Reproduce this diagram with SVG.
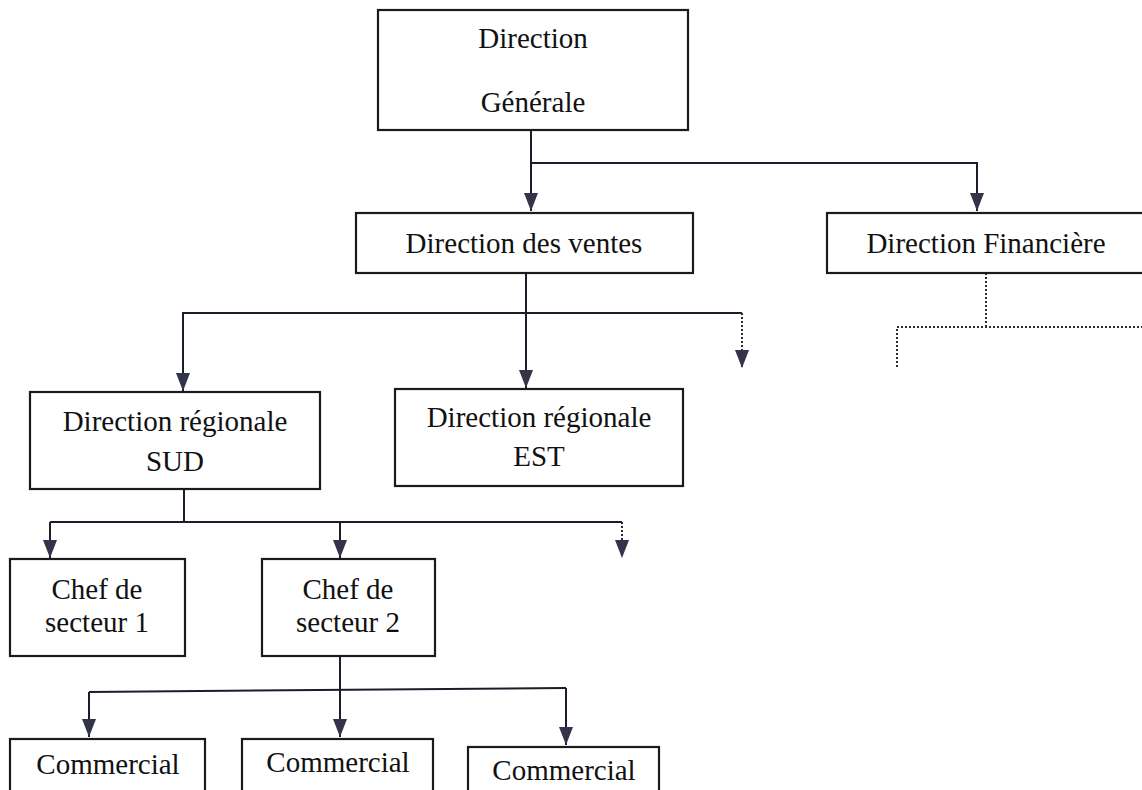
<svg xmlns="http://www.w3.org/2000/svg" width="1142" height="790" viewBox="0 0 1142 790">
  <style>
    .box { fill: #ffffff; stroke: #1a1a1a; stroke-width: 2.2; }
    .lbl { font-family: "Liberation Serif", "Times New Roman", serif; font-size: 29px; fill: #111111; text-anchor: middle; }
    .ln { fill: none; stroke: #1c1c2a; stroke-width: 2; }
    .dot { fill: none; stroke: #2a2a3a; stroke-width: 2; stroke-dasharray: 2 2; }
  </style>
  <defs>
    <!-- filled triangular arrowhead, tip at the path end -->
    <marker id="arr" viewBox="0 0 18 14" refX="18" refY="7" markerWidth="18" markerHeight="14" markerUnits="userSpaceOnUse" orient="auto">
      <path d="M0,0 L18,7 L0,14 Z" fill="#33334a"/>
    </marker>
  </defs>
  <rect width="1142" height="790" fill="#ffffff"/>

  <!-- connectors -->
  <g id="connectors">
    <!-- Direction Générale -> second level -->
    <path class="ln" d="M531,130 V211" marker-end="url(#arr)"/>
    <path class="ln" d="M531,163 H977 V211" marker-end="url(#arr)"/>
    <!-- Direction Financière (dotted, unfinished) -->
    <path class="dot" d="M986,273 V327"/>
    <path class="dot" d="M897,367 V327 H1142"/>
    <!-- Direction des ventes -> regional -->
    <path class="ln" d="M526,273 V388" marker-end="url(#arr)"/>
    <path class="ln" d="M526,313 H183 V391" marker-end="url(#arr)"/>
    <path class="ln" d="M526,313 H742"/>
    <path class="dot" d="M742,313 V368" marker-end="url(#arr)"/>
    <!-- Direction régionale SUD -> sector chiefs -->
    <path class="ln" d="M184,489 V522"/>
    <path class="ln" d="M50,522 H622"/>
    <path class="ln" d="M50,522 V558" marker-end="url(#arr)"/>
    <path class="ln" d="M340,522 V558" marker-end="url(#arr)"/>
    <path class="dot" d="M622,522 V558" marker-end="url(#arr)"/>
    <!-- Chef de secteur 2 -> commercials -->
    <path class="ln" d="M340,656 V690"/>
    <path class="ln" d="M89,692 L566,688"/>
    <path class="ln" d="M89,692 V737" marker-end="url(#arr)"/>
    <path class="ln" d="M340,690 V737" marker-end="url(#arr)"/>
    <path class="ln" d="M566,688 V745" marker-end="url(#arr)"/>
  </g>

  <g id="direction-generale">
    <rect class="box" x="378" y="10" width="310" height="120"/>
    <text class="lbl" x="533" y="48">Direction</text>
    <text class="lbl" x="533" y="112">Générale</text>
  </g>
  <g id="direction-ventes">
    <rect class="box" x="356" y="213" width="337" height="60"/>
    <text class="lbl" x="524" y="253">Direction des ventes</text>
  </g>
  <g id="direction-financiere">
    <rect class="box" x="827" y="213" width="330" height="60"/>
    <text class="lbl" x="986" y="253">Direction Financière</text>
  </g>
  <g id="direction-regionale-sud">
    <rect class="box" x="30" y="392" width="290" height="97"/>
    <text class="lbl" x="175" y="431">Direction régionale</text>
    <text class="lbl" x="175" y="471">SUD</text>
  </g>
  <g id="direction-regionale-est">
    <rect class="box" x="395" y="389" width="288" height="97"/>
    <text class="lbl" x="539" y="427">Direction régionale</text>
    <text class="lbl" x="539" y="466">EST</text>
  </g>
  <g id="chef-secteur-1">
    <rect class="box" x="10" y="559" width="175" height="97"/>
    <text class="lbl" x="97" y="599">Chef de</text>
    <text class="lbl" x="97" y="632">secteur 1</text>
  </g>
  <g id="chef-secteur-2">
    <rect class="box" x="262" y="559" width="173" height="97"/>
    <text class="lbl" x="348" y="599">Chef de</text>
    <text class="lbl" x="348" y="632">secteur 2</text>
  </g>
  <g id="commercial-1">
    <rect class="box" x="10" y="739" width="195" height="60"/>
    <text class="lbl" x="108" y="774">Commercial</text>
  </g>
  <g id="commercial-2">
    <rect class="box" x="242" y="739" width="191" height="60"/>
    <text class="lbl" x="338" y="772">Commercial</text>
  </g>
  <g id="commercial-3">
    <rect class="box" x="468" y="747" width="191" height="60"/>
    <text class="lbl" x="564" y="780">Commercial</text>
  </g>
</svg>
